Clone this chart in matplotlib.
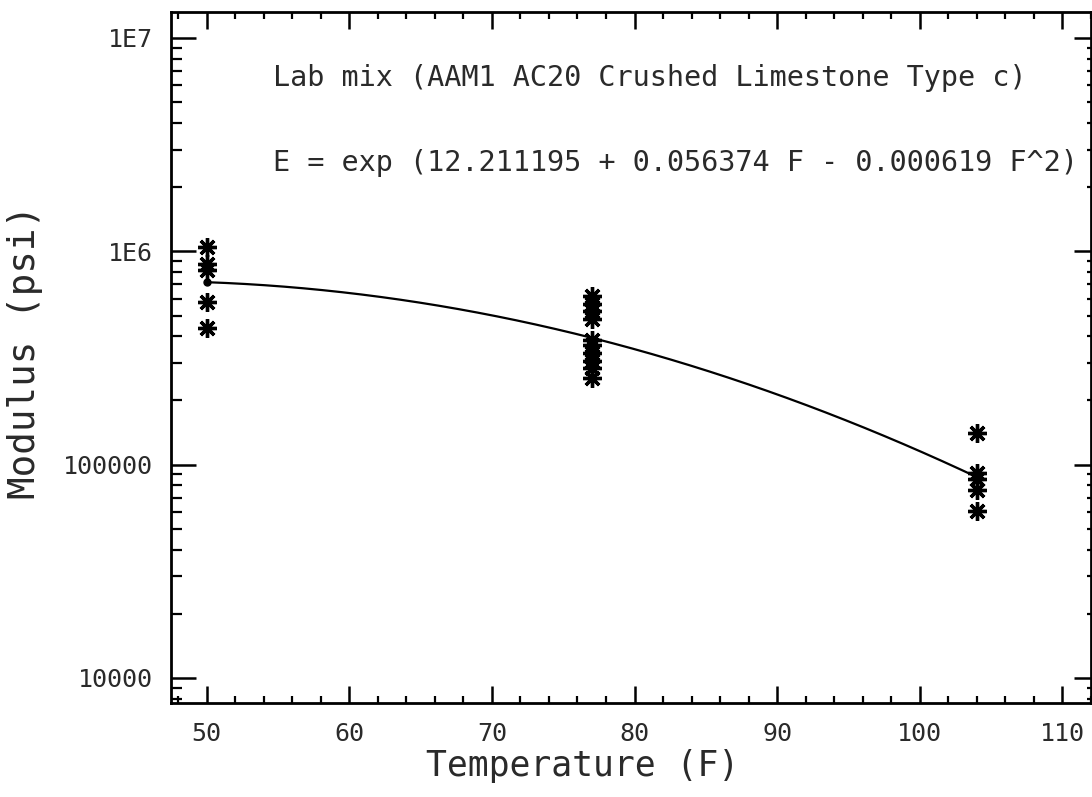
import numpy as np
import matplotlib
matplotlib.use("Agg")
import matplotlib.pyplot as plt
from matplotlib.ticker import FixedLocator, LogLocator, MultipleLocator, NullFormatter

# Measured resilient modulus (psi) at each test temperature (F)
temp_50 = [50, 50, 50, 50, 50]
mod_50 = [1.05e6, 8.7e5, 8.15e5, 5.77e5, 4.36e5]

temp_77 = [77] * 10
mod_77 = [6.15e5, 5.65e5, 5.24e5, 4.8e5, 3.86e5, 3.62e5, 3.32e5, 3.05e5, 2.83e5, 2.54e5]

temp_104 = [104] * 5
mod_104 = [1.40e5, 9.17e4, 8.6e4, 7.64e4, 6.08e4]

# Regression coefficients: E = exp(a + b F + c F^2)
coef_a = 12.211195
coef_b = 0.056374
coef_c = -0.000619
fit_range = [50, 104]

x_ticks = [50, 60, 70, 80, 90, 100, 110]
y_ticks = [1e4, 1e5, 1e6, 1e7]
y_tick_labels = ["10000", "100000", "1E6", "1E7"]

title_line = "Lab mix (AAM1 AC20 Crushed Limestone Type c)"
equation_line = "E = exp (12.211195 + 0.056374 F - 0.000619 F^2)"

FONT = "DejaVu Sans Mono"
INK = "#2a2a2a"

fig = plt.figure(figsize=(10.92, 7.97), dpi=100)
ax = fig.add_axes([0.1566, 0.118, 0.8424, 0.867])

ax.set_yscale("log")
ax.set_xlim(47.5, 112.0)
ylim = (10 ** 3.883, 10 ** 7.122)
ax.set_ylim(*ylim)

# Fitted curve
F = np.linspace(fit_range[0], fit_range[1], 200)
E = np.exp(coef_a + coef_b * F + coef_c * F ** 2)
ax.plot(F, E, color="black", lw=1.6, zorder=2)
ax.plot([F[0]], [E[0]], "o", color="black", ms=5, zorder=3)

# Data points as asterisks
star = dict(marker=(8, 2, 0), color="black", ms=13.5, mew=2.4, linestyle="none", zorder=4)
for xs, ys in ((temp_50, mod_50), (temp_77, mod_77), (temp_104, mod_104)):
    ax.plot(xs, ys, **star)

# Axes styling
for s in ax.spines.values():
    s.set_linewidth(2.0)
    s.set_color("black")

ax.xaxis.set_major_locator(FixedLocator(x_ticks))
ax.xaxis.set_minor_locator(MultipleLocator(2))
ax.set_xticklabels([str(v) for v in x_ticks], fontfamily=FONT, fontsize=18, color=INK)

ax.yaxis.set_major_locator(FixedLocator(y_ticks))
ax.yaxis.set_minor_locator(LogLocator(base=10, subs=np.arange(2, 10)))
ax.yaxis.set_minor_formatter(NullFormatter())
ax.set_yticklabels(y_tick_labels, fontfamily=FONT, fontsize=18, color=INK)

ax.tick_params(axis="x", which="major", direction="in", length=12, width=1.8,
               top=True, bottom=True, pad=14)
ax.tick_params(axis="x", which="minor", direction="in", length=5, width=1.6,
               top=True, bottom=True)
ax.tick_params(axis="y", which="major", direction="in", length=18, width=1.8,
               left=True, right=False, pad=13)
ax.tick_params(axis="y", which="minor", direction="in", length=8, width=1.6,
               left=True, right=False)

# Right-hand ticks: shorter marks on a twin axis
ax_r = ax.twinx()
ax_r.set_yscale("log")
ax_r.set_ylim(*ylim)
ax_r.yaxis.set_major_locator(FixedLocator(y_ticks))
ax_r.yaxis.set_minor_locator(LogLocator(base=10, subs=np.arange(2, 10)))
ax_r.yaxis.set_major_formatter(NullFormatter())
ax_r.yaxis.set_minor_formatter(NullFormatter())
ax_r.tick_params(axis="y", which="major", direction="in", length=12, width=1.8)
ax_r.tick_params(axis="y", which="minor", direction="in", length=3, width=1.6)
for s in ax_r.spines.values():
    s.set_visible(False)

ax.set_xlabel("Temperature (F)", fontfamily=FONT, fontsize=25, color=INK, labelpad=1)
ax.xaxis.set_label_coords(0.447, -0.066)
ax.set_ylabel("Modulus (psi)", fontfamily=FONT, fontsize=27, color=INK)
ax.yaxis.set_label_coords(-0.139, 0.508)

ax.text(0.111, 0.905, title_line, transform=ax.transAxes, fontfamily=FONT,
        fontsize=20.5, color=INK, va="center", ha="left")
ax.text(0.111, 0.781, equation_line, transform=ax.transAxes, fontfamily=FONT,
        fontsize=20.5, color=INK, va="center", ha="left")

fig.savefig("out.png", dpi=100, facecolor="white")
